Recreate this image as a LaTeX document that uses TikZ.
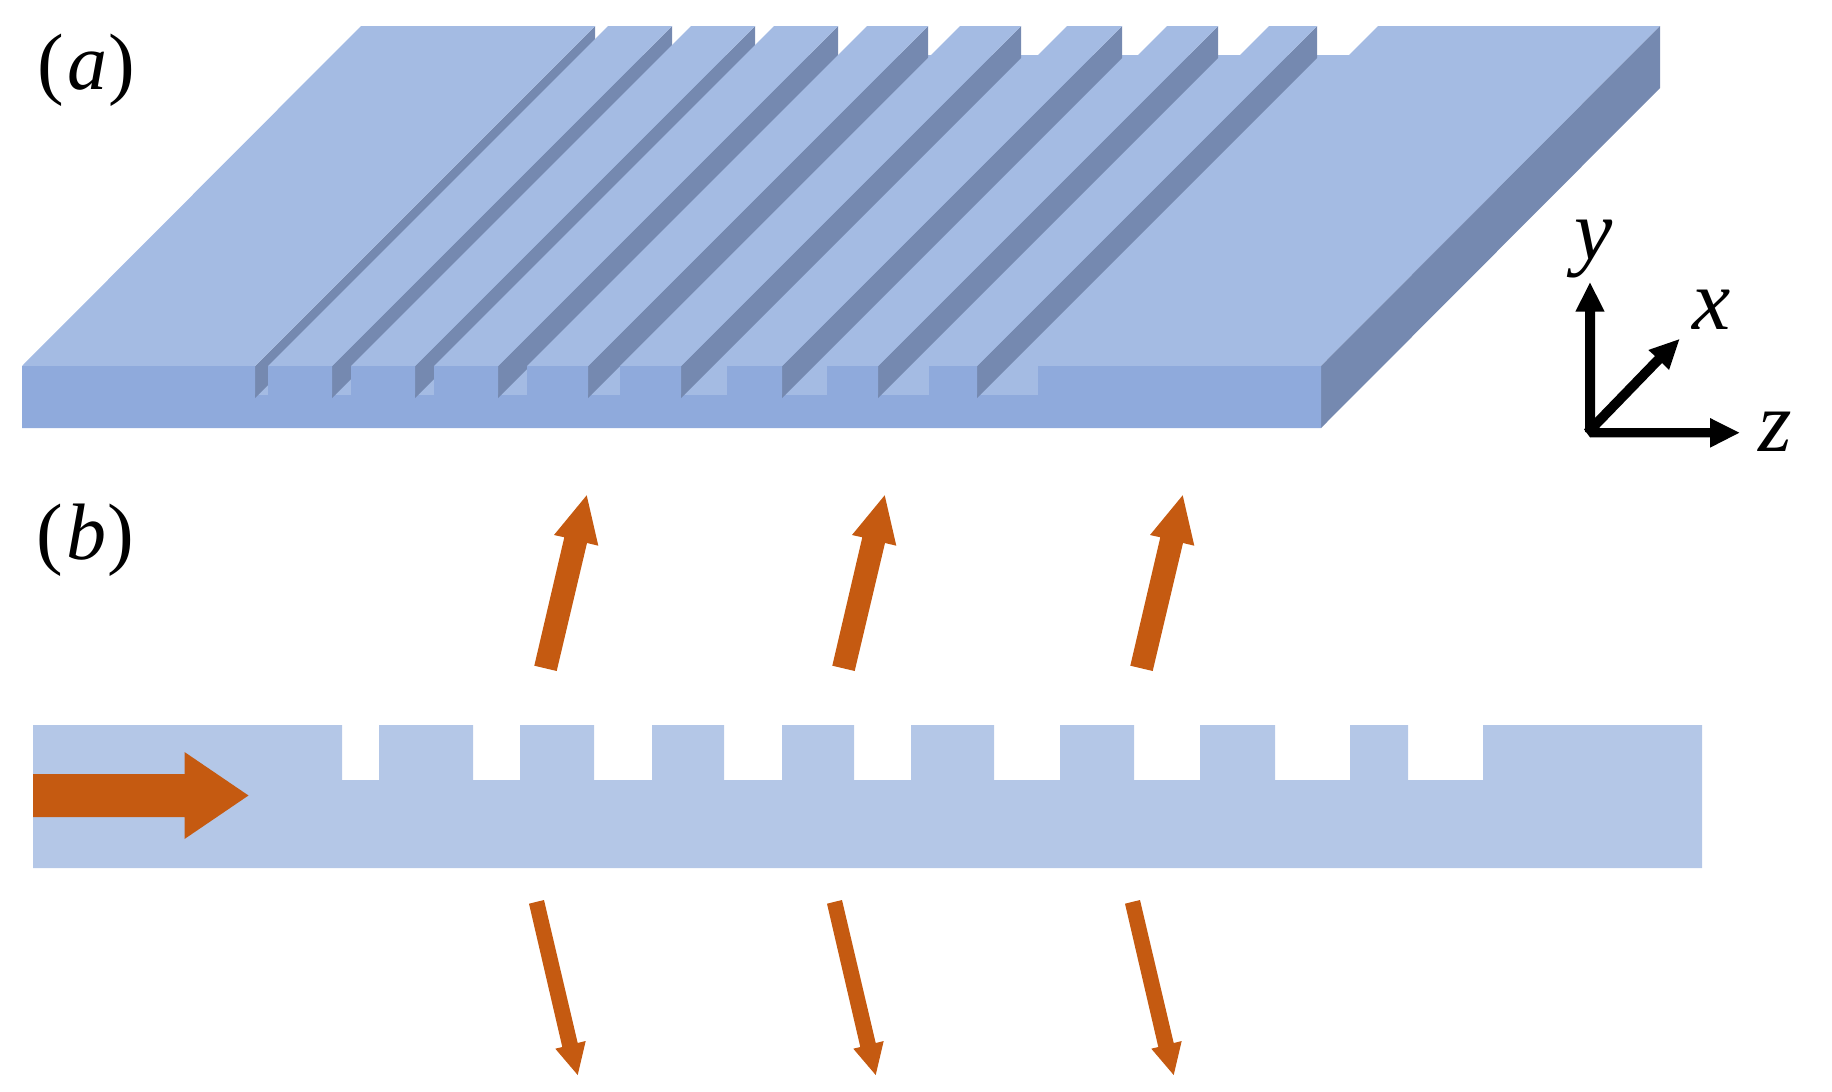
\documentclass[tikz,border=0pt]{standalone}
\usepackage{fontspec}
\setmainfont{Liberation Serif}
\definecolor{slabtop}{HTML}{A4BBE3}
\definecolor{slabfront}{HTML}{8FAADC}
\definecolor{slabwall}{HTML}{7589B0}
\definecolor{crosssec}{HTML}{B4C7E7}
\definecolor{beam}{HTML}{C55A11}
\tikzset{
  topface/.style={fill=slabtop},
  frontface/.style={fill=slabfront},
  wallface/.style={fill=slabwall},
  beamarrow/.style={fill=beam},
  axisarrow/.style={fill=black},
  panellabel/.style={anchor=base,inner sep=0pt,font=\fontsize{80}{84}\selectfont},
  axislabel/.style={anchor=base,inner sep=0pt,font=\fontsize{86}{90}\selectfont\itshape}
}
\begin{document}
\begin{tikzpicture}[x=1pt,y=-1pt]
\useasboundingbox (0,0) rectangle (1832,1092);
% --- (a) groove floor
\fill[topface] (255,395) -- (1038,395) -- (1378,55) -- (595,55) -- cycle;
% --- side walls of the ridges
\foreach \r in {255,332,415,498,588,681,782,878,977}
  \fill[wallface] (\r,366) -- (\r,398) -- (\r+340,58) -- (\r+340,26) -- cycle;
% --- top surfaces
\fill[topface] (22,366) -- (255,366) -- (595,26) -- (361,26) -- cycle;
\foreach \l/\r in {268/332,351/415,434/498,527/588,620/681,727/782,827/878,929/977}
  \fill[topface] (\l,366) -- (\r,366) -- (\r+340,26) -- (\l+340,26) -- cycle;
\fill[topface] (1038,366) -- (1321,366) -- (1660,26) -- (1378,26) -- cycle;
% --- right side
\fill[wallface] (1321,366) -- (1321,428) -- (1660,88) -- (1660,26) -- cycle;
% --- front face
\fill[frontface] (22,366) -- (255,366) -- (255,395) -- (268,395) -- (268,366)
  -- (332,366) -- (332,395) -- (351,395) -- (351,366)
  -- (415,366) -- (415,395) -- (434,395) -- (434,366)
  -- (498,366) -- (498,395) -- (527,395) -- (527,366)
  -- (588,366) -- (588,395) -- (620,395) -- (620,366)
  -- (681,366) -- (681,395) -- (727,395) -- (727,366)
  -- (782,366) -- (782,395) -- (827,395) -- (827,366)
  -- (878,366) -- (878,395) -- (929,395) -- (929,366)
  -- (977,366) -- (977,395) -- (1038,395) -- (1038,366)
  -- (1321,366) -- (1321,428) -- (22,428) -- cycle;
% --- wall tips that stick out below the groove floor
\foreach \r in {255,332,415,498,588,681,782,878,977}
  \fill[wallface] (\r,394.5) -- (\r,398) -- (\r+3.5,394.5) -- cycle;
% --- (b) cross-section
\fill[fill=crosssec] (33,725) -- (342,725) -- (342,780) -- (379,780) -- (379,725)
  -- (473,725) -- (473,780) -- (520,780) -- (520,725)
  -- (594,725) -- (594,780) -- (652,780) -- (652,725)
  -- (724,725) -- (724,780) -- (782,780) -- (782,725)
  -- (854,725) -- (854,780) -- (911,780) -- (911,725)
  -- (994,725) -- (994,780) -- (1060,780) -- (1060,725)
  -- (1134,725) -- (1134,780) -- (1200,780) -- (1200,725)
  -- (1275,725) -- (1275,780) -- (1350,780) -- (1350,725)
  -- (1408,725) -- (1408,780) -- (1483,780) -- (1483,725)
  -- (1702,725) -- (1702,868) -- (33,868) -- cycle;
% --- guided beam
\fill[beamarrow] (33,774) -- (184.5,774) -- (184.5,752) -- (248.5,795.5)
  -- (184.5,839) -- (184.5,817) -- (33,817) -- cycle;
% --- radiated beams
\foreach \d in {0,298,596} {
  \fill[beamarrow] (534.3+\d,665.7) -- (564.3+\d,537.3) -- (554+\d,535) -- (586.7+\d,495.3)
    -- (598.3+\d,545.7) -- (587+\d,543) -- (556.7+\d,671) -- cycle;
  \fill[beamarrow] (529+\d,903.7) -- (544+\d,900) -- (577.7+\d,1043) -- (585.7+\d,1041)
    -- (577.7+\d,1075) -- (555.3+\d,1048.7) -- (562.3+\d,1047) -- cycle;
}
% --- axes
\fill[axisarrow] (1585,432) -- (1585,311.7) -- (1575.3,311.7) -- (1590,282.7)
  -- (1604.7,311.7) -- (1595,311.7) -- (1595,432) -- cycle;
\fill[axisarrow] (1590,428) -- (1710,428) -- (1710,418) -- (1739.3,432.7)
  -- (1710,447.7) -- (1710,437.3) -- (1590,437.3) -- cycle;
\fill[axisarrow] (1584,429.3) -- (1655,356) -- (1648.3,350) -- (1679.3,339.3)
  -- (1669,370) -- (1662,363) -- (1590,437.3) -- cycle;
% --- labels
\node[panellabel] (labela) at (86,89) {(\kern3pt\textit{a}\kern1pt)};
\node[panellabel] (labelb) at (85,559) {(\kern3pt\textit{b}\kern1pt)};
\node[axislabel] (axisy) at (1594,259) {y};
\node[axislabel] (axisx) at (1712,329) {x};
\node[axislabel] (axisz) at (1775,451) {z};
\end{tikzpicture}
\end{document}
